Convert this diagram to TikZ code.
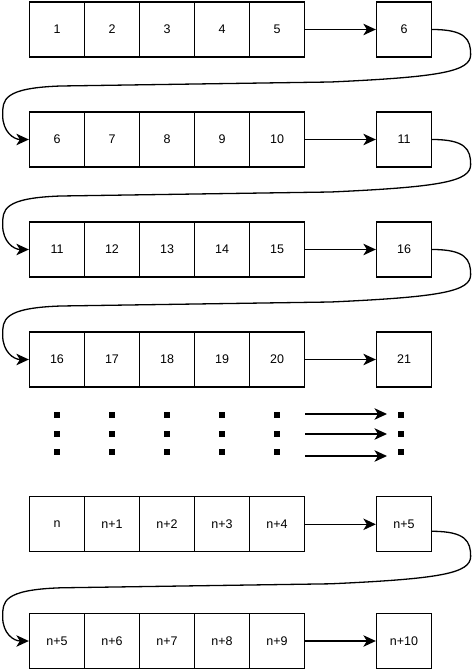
\documentclass[tikz,border=0pt]{standalone}
\usepackage{fontspec}
\setmainfont{Liberation Sans}
\usetikzlibrary{arrows.meta, calc}

\tikzset{
  cell/.style={draw, line width=1.3pt, minimum width=55pt, minimum height=55pt, inner sep=0pt},
  dot/.style={fill=black, minimum size=6pt, inner sep=0pt},
  wrap/.style={to path={(\tikztostart) .. controls +(33.5,0) and +(0,-15) .. ++(38.5,25)
      .. controls +(0,17) and +(110,-5) .. ++(-140,27.5) -- ++(-270,4)
      .. controls +(-58,2) and +(0,-15) .. ++(-58,29)
      .. controls +(0,17) and +(-15,0) .. (\tikztotarget)}}
}

\begin{document}
\begin{tikzpicture}[x=1pt, y=-1pt, >={Stealth[length=12.5pt, width=11.5pt, inset=3.5pt]}, line width=1.3pt, every node/.style={font=\fontsize{12.5}{14}\selectfont}]
  \useasboundingbox (0,0) rectangle (472,671);
  % row 1
  \node[cell] (cell11) at (57,29.5) {1};
  \node[cell] (cell12) at (112,29.5) {2};
  \node[cell] (cell13) at (167,29.5) {3};
  \node[cell] (cell14) at (222,29.5) {4};
  \node[cell] (cell15) at (277,29.5) {5};
  \node[cell] (cell16) at (404,29.5) {6};
  % row 2
  \node[cell] (cell21) at (57,139.5) {6};
  \node[cell] (cell22) at (112,139.5) {7};
  \node[cell] (cell23) at (167,139.5) {8};
  \node[cell] (cell24) at (222,139.5) {9};
  \node[cell] (cell25) at (277,139.5) {10};
  \node[cell] (cell26) at (404,139.5) {11};
  % row 3
  \node[cell] (cell31) at (57,249.5) {11};
  \node[cell] (cell32) at (112,249.5) {12};
  \node[cell] (cell33) at (167,249.5) {13};
  \node[cell] (cell34) at (222,249.5) {14};
  \node[cell] (cell35) at (277,249.5) {15};
  \node[cell] (cell36) at (404,249.5) {16};
  % row 4
  \node[cell] (cell41) at (57,359.5) {16};
  \node[cell] (cell42) at (112,359.5) {17};
  \node[cell] (cell43) at (167,359.5) {18};
  \node[cell] (cell44) at (222,359.5) {19};
  \node[cell] (cell45) at (277,359.5) {20};
  \node[cell] (cell46) at (404,359.5) {21};
  % dots
  \node[dot] (dot11) at (57,415) {};
  \node[dot] (dot12) at (57,434) {};
  \node[dot] (dot13) at (57,452) {};
  \node[dot] (dot21) at (112,415) {};
  \node[dot] (dot22) at (112,434) {};
  \node[dot] (dot23) at (112,452) {};
  \node[dot] (dot31) at (167,415) {};
  \node[dot] (dot32) at (167,434) {};
  \node[dot] (dot33) at (167,452) {};
  \node[dot] (dot41) at (222,415) {};
  \node[dot] (dot42) at (222,434) {};
  \node[dot] (dot43) at (222,452) {};
  \node[dot] (dot51) at (277,415) {};
  \node[dot] (dot52) at (277,434) {};
  \node[dot] (dot53) at (277,452) {};
  \node[dot] (dot61) at (401,415) {};
  \node[dot] (dot62) at (401,434) {};
  \node[dot] (dot63) at (401,452) {};
  % row n
  \node[cell] (cellN1) at (57,524.3) {n};
  \node[cell] (cellN2) at (112,524.3) {n+1};
  \node[cell] (cellN3) at (167,524.3) {n+2};
  \node[cell] (cellN4) at (222,524.3) {n+3};
  \node[cell] (cellN5) at (277,524.3) {n+4};
  \node[cell] (cellN6) at (404,524.3) {n+5};
  % row n+5
  \node[cell] (cellM1) at (57,641) {n+5};
  \node[cell] (cellM2) at (112,641) {n+6};
  \node[cell] (cellM3) at (167,641) {n+7};
  \node[cell] (cellM4) at (222,641) {n+8};
  \node[cell] (cellM5) at (277,641) {n+9};
  \node[cell] (cellM6) at (404,641) {n+10};

  \draw[->] (cell15) -- (cell16);
  \draw[->] (cell25) -- (cell26);
  \draw[->] (cell35) -- (cell36);
  \draw[->] (cell45) -- (cell46);
  \draw[->] (cellN5) -- (cellN6);
  \draw[->] (cellM5) -- (cellM6);

  \draw[->] (cell16.east) to[wrap] (cell21.west);
  \draw[->] (cell26.east) to[wrap] (cell31.west);
  \draw[->] (cell36.east) to[wrap] (cell41.west);
  \draw[->] ($(cellN6.east)+(0,7)$) to[wrap] (cellM1.west);

  % arrows between the dots
  \coordinate (from1) at (305,414);
  \coordinate (from2) at (305,434);
  \coordinate (from3) at (305,456);
  \draw[->] (from1) -- ($(from1)+(82,0)$);
  \draw[->] (from2) -- ($(from2)+(82,0)$);
  \draw[->] (from3) -- ($(from3)+(82,0)$);
\end{tikzpicture}
\end{document}
